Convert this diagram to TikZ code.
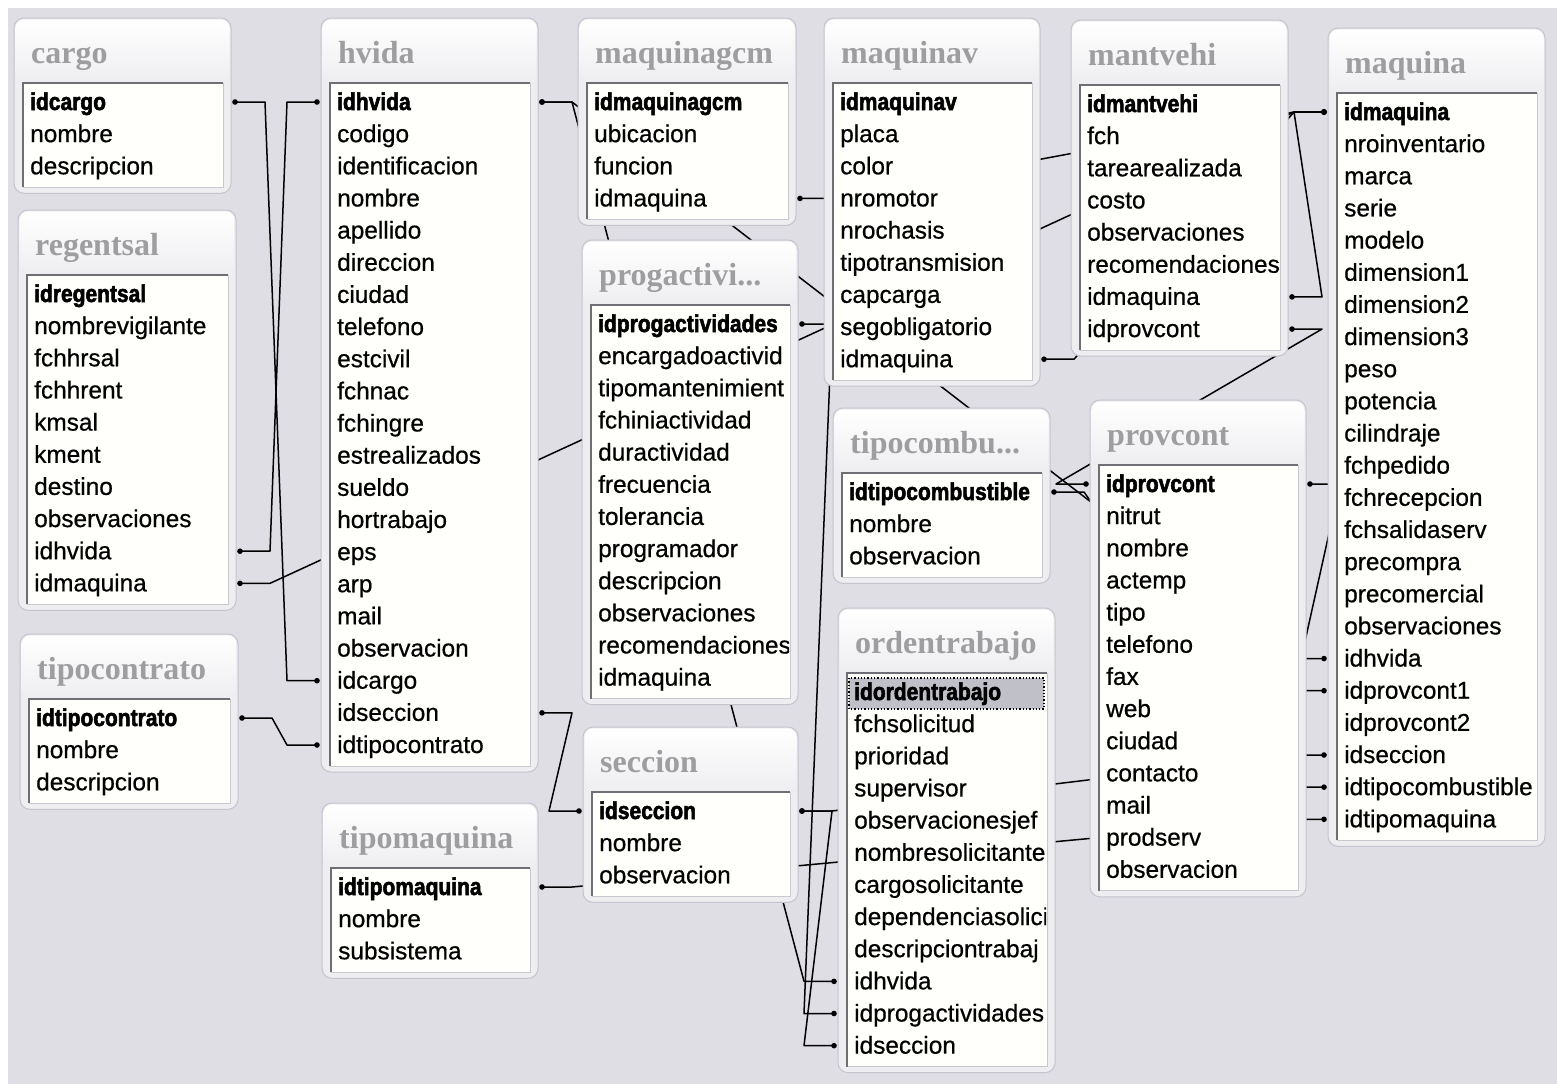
\documentclass[tikz,border=0pt]{standalone}
\usepackage{fontspec}
\usetikzlibrary{calc}
\newfontfamily\fldfont[FakeBold=0.6]{Liberation Sans}
\newfontfamily\pkfont[FakeStretch=0.86,FakeBold=2.2]{Liberation Sans Bold}
\newfontfamily\ttlfont{Liberation Serif}
\definecolor{pagebg}{RGB}{223,222,229}
\definecolor{framefill}{RGB}{238,238,241}
\definecolor{framedraw}{RGB}{196,196,204}
\definecolor{titlegray}{RGB}{158,158,160}
\definecolor{innerdark}{RGB}{110,110,116}
\definecolor{innerlight}{RGB}{200,200,206}
\definecolor{innerfill}{RGB}{255,255,251}
\definecolor{hlfill}{RGB}{192,192,200}
\pgfdeclarelayer{bgl}\pgfdeclarelayer{lines}\pgfdeclarelayer{txt}
\pgfsetlayers{bgl,lines,main,txt}
\tikzset{
 tabframe/.style={draw=framedraw, fill=framefill, rounded corners=10pt, inner sep=0pt, outer sep=0pt, line width=1pt},
 titletxt/.style={text=titlegray, font=\ttlfont\bfseries\fontsize{32}{36}\selectfont, inner sep=0pt},
 pktxt/.style={text=black, font=\pkfont\fontsize{24.4}{28}\selectfont, inner sep=0pt},
 fldtxt/.style={text=black, font=\fldfont\fontsize{24.4}{28}\selectfont, inner sep=0pt},
 relline/.style={draw=black, line width=1.5pt, line join=round},
 reldot/.style={fill=black},
 innerbox/.style={fill=innerfill},
}
% #1 name, #2 x1, #3 y1, #4 x2, #5 rows, #6 title, #7 key, #8 other fields
\newcommand\dbtab[8]{%
 \pgfmathsetmacro\yb{#3+86+(#5-1)*32.15+25}%
 \pgfmathsetmacro\cx{(#2+#4)/2}\pgfmathsetmacro\cy{(#3+\yb)/2}%
 \pgfmathsetmacro\tw{#4-#2}\pgfmathsetmacro\th{\yb-#3}%
 \node[tabframe, minimum width=\tw pt, minimum height=\th pt] (#1) at (\cx,\cy) {};
 \shade[top color=white, bottom color=framefill, rounded corners=9pt] (#2+1.5,#3+1.5) rectangle (#4-1.5,#3+64);
 \fill[innerbox] (#2+9,#3+65) rectangle (#4-8,\yb-6);
 \draw[innerlight, line width=1pt] (#2+9,\yb-6) rectangle (#4-8,#3+65);
 \draw[innerdark, line width=1.3pt] (#2+9,\yb-6) -- (#2+9,#3+65) -- (#4-8,#3+65);
 \begin{pgfonlayer}{txt}
  \node[titletxt, anchor=base west] (#1-t) at (#2+17,#3+45) {#6};
  \begin{scope}
   \clip (#2+10,#3+66) rectangle (#4-9,\yb-7);
   \node[pktxt, anchor=base west] (#1-1) at (#2+16,#3+92) {#7};
   \foreach \f [count=\k from 2] in {#8}
     \node[fldtxt, anchor=base west] (#1-\k) at ({#2+16},{#3+92+(\k-1)*32.15}) {\f};
  \end{scope}
 \end{pgfonlayer}
}
% relation: table, row, side, table, row, side
\newcommand\rel[6]{%
 \if#3R\def\sa{east}\def\sd{1}\else\def\sa{west}\def\sd{-1}\fi
 \if#6R\def\ea{east}\def\ed{1}\else\def\ea{west}\def\ed{-1}\fi
 \begin{pgfonlayer}{lines}
  \coordinate (ra) at ($(#1.\sa |- #1-#2.base)+(\sd*4,-8)$);
  \coordinate (rb) at ($(#4.\ea |- #4-#5.base)+(\ed*4,-8)$);
  \draw[relline] (ra) -- ++(\sd*30,0) -- ($(rb)+(\ed*30,0)$) -- (rb);
  \fill[reldot] (ra) circle (2.8) (rb) circle (2.8);
 \end{pgfonlayer}}
\begin{document}
\begin{tikzpicture}[x=1pt,y=-1pt]
\useasboundingbox (0,0) rectangle (1557,1084);
\begin{pgfonlayer}{bgl}
 \fill[white] (0,0) rectangle (1557,1084);
 \fill[pagebg] (8,8) rectangle (1557,1084);
\end{pgfonlayer}

\dbtab{cargo}{14}{18}{231}{3}{cargo}{idcargo}{nombre,descripcion}
\dbtab{regentsal}{18}{210}{236}{10}{regentsal}{idregentsal}{nombrevigilante,fchhrsal,fchhrent,kmsal,kment,destino,observaciones,idhvida,idmaquina}
\dbtab{tipocontrato}{20}{634}{238}{3}{tipocontrato}{idtipocontrato}{nombre,descripcion}
\dbtab{hvida}{321}{18}{538}{21}{hvida}{idhvida}{codigo,identificacion,nombre,apellido,direccion,ciudad,telefono,estcivil,fchnac,fchingre,estrealizados,sueldo,hortrabajo,eps,arp,mail,observacion,idcargo,idseccion,idtipocontrato}
\dbtab{tipomaquina}{322}{803}{538}{3}{tipomaquina}{idtipomaquina}{nombre,subsistema}
\dbtab{maquinagcm}{578}{18}{796}{4}{maquinagcm}{idmaquinagcm}{ubicacion,funcion,idmaquina}
\dbtab{progactivi}{582}{240}{798}{12}{progactivi...}{idprogactividades}{encargadoactivid,tipomantenimient,fchiniactividad,duractividad,frecuencia,tolerancia,programador,descripcion,observaciones,recomendaciones,idmaquina}
\dbtab{seccion}{583}{727}{798}{3}{seccion}{idseccion}{nombre,observacion}
\dbtab{maquinav}{824}{18}{1040}{9}{maquinav}{idmaquinav}{placa,color,nromotor,nrochasis,tipotransmision,capcarga,segobligatorio,idmaquina}
\dbtab{tipocombu}{833}{408}{1050}{3}{tipocombu...}{idtipocombustible}{nombre,observacion}
\dbtab{ordentrabajo}{838}{608}{1055}{12}{ordentrabajo}{idordentrabajo}{fchsolicitud,prioridad,supervisor,observacionesjef,nombresolicitante,cargosolicitante,dependenciasolici,descripciontrabaj,idhvida,idprogactividades,idseccion}
\fill[hlfill] (849,678) rectangle (1044,709);
\draw[black, dotted, line width=1.3pt] (849,678) rectangle (1044,709);
\dbtab{mantvehi}{1071}{20}{1288}{8}{mantvehi}{idmantvehi}{fch,tarearealizada,costo,observaciones,recomendaciones,idmaquina,idprovcont}
\dbtab{maquina}{1328}{28}{1545}{23}{maquina}{idmaquina}{nroinventario,marca,serie,modelo,dimension1,dimension2,dimension3,peso,potencia,cilindraje,fchpedido,fchrecepcion,fchsalidaserv,precompra,precomercial,observaciones,idhvida,idprovcont1,idprovcont2,idseccion,idtipocombustible,idtipomaquina}
\dbtab{provcont}{1090}{400}{1306}{13}{provcont}{idprovcont}{nitrut,nombre,actemp,tipo,telefono,fax,web,ciudad,contacto,mail,prodserv,observacion}

\rel{cargo}{1}{R}{hvida}{19}{L}
\rel{hvida}{1}{L}{regentsal}{9}{R}
\rel{regentsal}{10}{R}{maquina}{1}{L}
\rel{hvida}{1}{R}{maquina}{18}{L}
\rel{hvida}{1}{R}{ordentrabajo}{10}{L}
\rel{maquinagcm}{4}{R}{maquina}{1}{L}
\rel{maquinav}{9}{R}{maquina}{1}{L}
\rel{mantvehi}{7}{R}{maquina}{1}{L}
\rel{progactivi}{1}{R}{ordentrabajo}{11}{L}
\rel{mantvehi}{8}{R}{provcont}{1}{L}
\rel{provcont}{1}{R}{maquina}{19}{L}
\rel{tipocombu}{1}{R}{maquina}{22}{L}
\rel{hvida}{20}{R}{seccion}{1}{L}
\rel{seccion}{1}{R}{ordentrabajo}{12}{L}
\rel{seccion}{1}{R}{maquina}{21}{L}
\rel{tipomaquina}{1}{R}{maquina}{23}{L}
\rel{tipocontrato}{1}{R}{hvida}{21}{L}
\end{tikzpicture}
\end{document}
